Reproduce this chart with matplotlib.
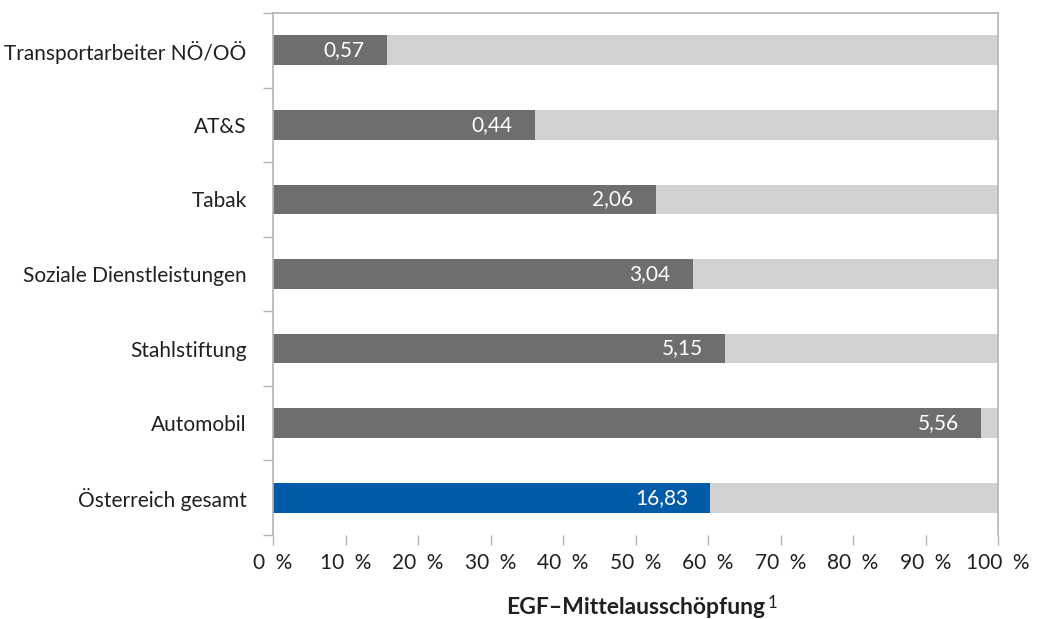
import matplotlib
matplotlib.use('Agg')
import matplotlib.pyplot as plt
import numpy as np

plt.rcParams['font.family'] = ['Lato', 'DejaVu Sans']

# categories from top to bottom
kategorien = ['Transportarbeiter NÖ/OÖ', 'AT&S', 'Tabak', 'Soziale Dienstleistungen',
              'Stahlstiftung', 'Automobil', 'Österreich gesamt']
# share of funds used (percent)
anteil = [15.7, 36.1, 52.8, 57.9, 62.3, 97.7, 60.3]
# value labels (Mio. EUR)
werte = ['0,57', '0,44', '2,06', '3,04', '5,15', '5,56', '16,83']

dunkel = '#6d6e70'
hell = '#d1d2d4'
blau = '#005ca9'
rand = '#b4b4b6'
schrift = '#231f20'

fig = plt.figure(figsize=(10.37, 6.19), dpi=100)
ax = fig.add_axes([273 / 1037, 1 - 535 / 619, 725 / 1037, 522 / 619])

y = np.arange(len(kategorien))
farben = [dunkel] * (len(kategorien) - 1) + [blau]
rest = [100 - a for a in anteil]

ax.barh(y, anteil, height=0.4, color=farben)
ax.barh(y, rest, left=anteil, height=0.4, color=hell)

for i in range(len(kategorien)):
    ax.annotate(werte[i], xy=(anteil[i], y[i]), xytext=(-16, 0),
                textcoords='offset points', ha='right', va='center',
                color='white', fontsize=15)

ax.set_xlim(0, 100)
ax.set_ylim(len(kategorien) - 0.5, -0.5)

ax.set_xticks(np.arange(0, 101, 10))
ax.set_xticklabels(['%d\u2002%%' % v for v in range(0, 101, 10)])
ax.set_yticks(np.arange(-0.5, len(kategorien), 1), minor=False)
ax.set_yticklabels([])
ax.set_yticks(y, minor=True)
ax.set_yticklabels(kategorien, minor=True)
ax.tick_params(axis='y', which='minor', length=0, pad=19, labelsize=15, labelcolor=schrift)
ax.tick_params(axis='y', which='major', length=7, color=rand, width=1)
ax.tick_params(axis='x', length=7, color=rand, width=1, labelsize=15,
               labelcolor=schrift, pad=6)

for s in ['top', 'right', 'left']:
    ax.spines[s].set_color(rand)
    ax.spines[s].set_linewidth(1.2)
ax.spines['bottom'].set_visible(False)

lab = ax.set_xlabel('EGF–Mittelausschöpfung', fontsize=16.5, fontweight='bold',
                    color=schrift, labelpad=17)
ax.annotate('1', xy=(1, 1), xycoords=lab, xytext=(2, 1), textcoords='offset points',
            ha='left', va='top', fontsize=12, color=schrift)

fig.savefig('out.png', dpi=100)
